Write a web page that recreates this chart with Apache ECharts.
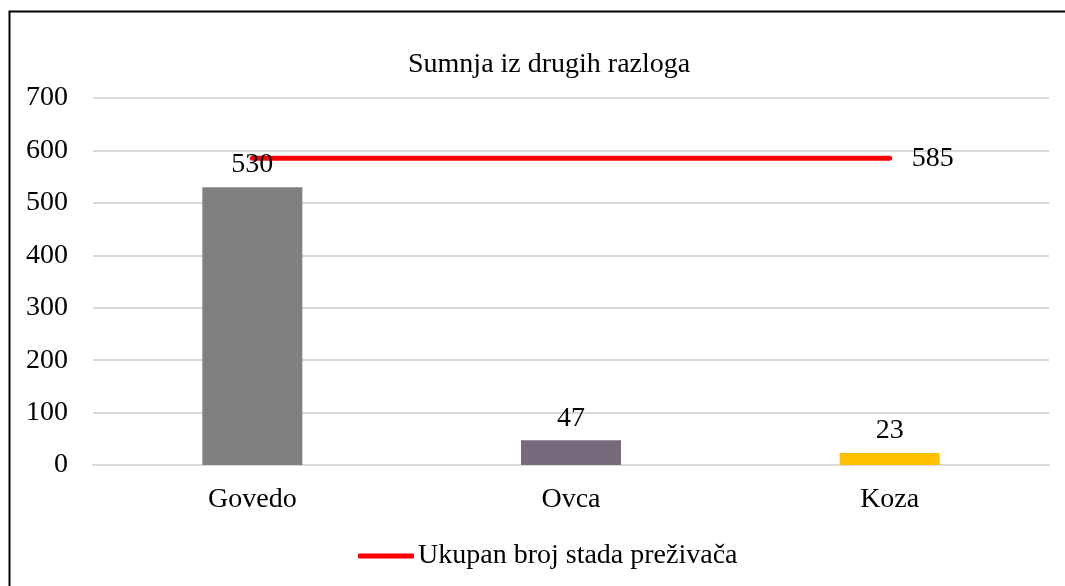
<!DOCTYPE html>
<html>
<head>
<meta charset="utf-8">
<script src="https://cdn.jsdelivr.net/npm/echarts@6/dist/echarts.min.js"></script>
<style>
  html, body { margin: 0; padding: 0; background: #fff; }
  #chart { width: 1065px; height: 586px; }
</style>
</head>
<body>
<div id="chart"></div>
<script>
// podaci
const categories = ['Govedo', 'Ovca', 'Koza']
const barValues = [530, 47, 23]
const barColors = ['#808080', '#786a7c', '#ffc000']
const totalValues = [585, 585, 585]
const yTicks = { min: 0, max: 700, interval: 100 }

const font = '"Liberation Serif", "Times New Roman", serif'
const fs = 28

const chart = echarts.init(document.getElementById('chart'))

chart.setOption({
    animation: false,
    textStyle: { fontFamily: font, color: '#000' },
    title: {
        text: 'Sumnja iz drugih razloga',
        left: 403,
        top: 46,
        textStyle: { fontFamily: font, fontSize: fs, fontWeight: 'normal', color: '#000' }
    },
    graphic: [{
        type: 'rect',
        shape: { x: 9.5, y: 11.5, width: 1200, height: 700 },
        style: { fill: 'none', stroke: '#000', lineWidth: 2 },
        silent: true
    }],
    grid: { left: 93, right: 16, top: 98, bottom: 121 },
    legend: {
        top: 537,
        left: 353,
        icon: 'roundRect',
        itemWidth: 56,
        itemHeight: 5,
        itemGap: 4,
        textStyle: { fontFamily: font, fontSize: fs, color: '#000', padding: [0, 0, 0, -1] },
        data: ['Ukupan broj stada preživača']
    },
    xAxis: {
        type: 'category',
        data: categories,
        axisTick: { show: false },
        axisLine: { lineStyle: { color: '#d9d9d9', width: 2 } },
        axisLabel: { fontFamily: font, fontSize: fs, color: '#000', margin: 21 }
    },
    yAxis: {
        type: 'value',
        min: yTicks.min,
        max: yTicks.max,
        interval: yTicks.interval,
        axisLine: { show: false },
        axisTick: { show: false },
        splitLine: { lineStyle: { color: '#d9d9d9', width: 2 } },
        axisLabel: { fontFamily: font, fontSize: fs, color: '#000', margin: 25 }
    },
    series: [
        {
            name: 'Sumnja',
            type: 'bar',
            barWidth: 100,
            data: barValues.map((v, i) => ({ value: v, itemStyle: { color: barColors[i] } })),
            label: {
                show: true,
                position: 'top',
                distance: 8,
                fontFamily: font,
                fontSize: fs,
                color: '#000'
            },
            z: 3
        },
        {
            name: 'Ukupan broj stada preživača',
            type: 'line',
            data: totalValues,
            symbol: 'none',
            lineStyle: { color: '#ff0000', width: 5, cap: 'round' },
            itemStyle: { color: '#ff0000' },
            endLabel: {
                show: true,
                formatter: '{c}',
                distance: 22,
                fontFamily: font,
                fontSize: fs,
                color: '#000'
            },
            z: 2
        }
    ]
})
</script>
</body>
</html>
